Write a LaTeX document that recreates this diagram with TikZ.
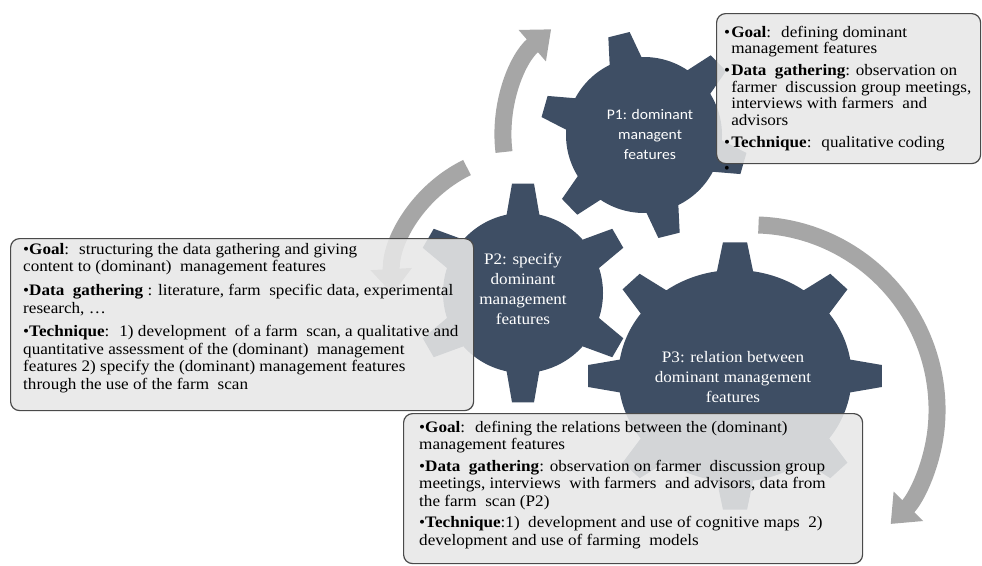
\documentclass[tikz,border=0pt]{standalone}
\usepackage{fontspec}
\setmainfont{Liberation Serif}
\newfontfamily\calibrifont{Carlito}
\usetikzlibrary{arrows.meta}
\definecolor{GearBlue}{HTML}{3E4E64}
\definecolor{CycleGray}{HTML}{A6A6A6}
\definecolor{BoxFill}{HTML}{E8E8E8}
\definecolor{BoxLine}{HTML}{4A4A4A}
\newcommand{\Gear}[7]{%
  \pgfmathsetmacro\gstep{360/#4}%
  \pgfmathsetmacro\gbase{deg(16.5/#5)}%
  \pgfmathsetmacro\gtip{deg(11/#6)}%
  \pgfmathtruncatemacro\glast{#4-1}%
  \fill[gearfill,shift={(#1,#2)},xscale=#3] ({#7-\gbase}:#5)
    \foreach \k in {0,...,\glast} {
      -- ({#7+\k*\gstep-\gtip}:#6) -- ({#7+\k*\gstep+\gtip}:#6)
      -- ({#7+\k*\gstep+\gbase}:#5)
      arc[start angle={#7+\k*\gstep+\gbase},end angle={#7+(\k+1)*\gstep-\gbase},radius=#5]
    } -- cycle;%
}
\newcommand{\WideText}[2]{\scalebox{1.07}[1]{\begin{tabular}{@{}#1@{}}#2\end{tabular}}}

\begin{document}
\begin{tikzpicture}[x=1pt,y=-1pt,
  cyclearrow/.style={draw=CycleGray,line width=17pt,-{Triangle[width=40pt,length=25pt]}},
  gearfill/.style={fill=GearBlue},
  gearlabel/.style={text=white,inner sep=0pt,font=\fontsize{16}{20}\selectfont},
  infobox/.style={draw=BoxLine,line width=1.2pt,rounded corners=9pt,fill=BoxFill,fill opacity=0.88,inner sep=0pt,anchor=north west},
  boxtext/.style={inner sep=0pt,anchor=north west,text=black}]
\path[use as bounding box,fill=white] (0,0) rectangle (982,565);

\coordinate (startA) at (504,152);
\coordinate (startB) at (467,167.5);
\coordinate (startC) at (758.5,225);
\draw[cyclearrow] (startA) arc[start angle=173,end angle=229,radius=140];
\draw[cyclearrow] (startB) arc[start angle=244,end angle=177,radius=133];
\draw[cyclearrow] (startC) arc[start angle=-88,end angle=5,radius=185]
  arc[start angle=5,end angle=45,radius=158];

\Gear{644}{135}{1}{6}{78}{104}{-104}
\Gear{523}{293}{1}{6}{80}{110}{-90}
\Gear{735}{376}{1.1}{8}{106}{134}{-90}

\node[gearlabel,font=\calibrifont\fontsize{14.6}{20}\selectfont] (p1) at (650,135) {\WideText{c}{P1: dominant\\managent\\features}};
\node[gearlabel] (p2) at (523,290) {\WideText{c}{P2: specify\\dominant\\management\\features}};
\node[gearlabel] (p3) at (733,378) {\WideText{c}{P3: relation between\\dominant management\\features}};

\node[infobox,minimum width=264,minimum height=150] (box1) at (716,13) {};
\node[infobox,minimum width=463,minimum height=172] (box2) at (10,238) {};
\node[infobox,minimum width=459,minimum height=150] (box3) at (403,413) {};

\node[boxtext,font=\fontsize{16}{16.5}\selectfont] (txt1) at (724,25.5) {\WideText{l}{%
•\kern1pt\textbf{Goal}:~ defining dominant\\
\phantom{•\kern1pt}management features\\[5.5pt]
•\kern1pt\textbf{Data~ gathering}: observation on\\
\phantom{•\kern1pt}farmer~ discussion group meetings,\\
\phantom{•\kern1pt}interviews with farmers~ and\\
\phantom{•\kern1pt}advisors\\[5.5pt]
•\kern1pt\textbf{Technique}:~ qualitative coding}};
\node[boxtext,anchor=base west,font=\fontsize{16}{16.5}\selectfont] (dot1) at (724,173) {•};

\node[boxtext,font=\fontsize{16}{17.8}\selectfont] (txt2) at (23,241.5) {\WideText{l}{%
•\textbf{Goal}:~ structuring the data gathering and giving\\
content to (dominant)~ management features\\[5.5pt]
•\textbf{Data~ gathering} : literature, farm~ specific data, experimental\\
research, …\\[5.5pt]
•\textbf{Technique}:~ 1) development~ of a farm~ scan, a qualitative and\\
quantitative assessment of the (dominant)~ management\\
features 2) specify the (dominant) management features\\
through the use of the farm~ scan}};

\node[boxtext,font=\fontsize{16}{17.5}\selectfont] (txt3) at (419,419.75) {\WideText{l}{%
•\textbf{Goal}:~ defining the relations between the (dominant)\\
management features\\[4pt]
•\textbf{Data~ gathering}: observation on farmer~ discussion group\\
meetings, interviews~ with farmers~ and advisors, data from\\
the farm~ scan (P2)\\[4pt]
•\textbf{Technique}:1)~ development and use of cognitive maps~ 2)\\
development and use of farming~ models}};
\end{tikzpicture}
\end{document}
